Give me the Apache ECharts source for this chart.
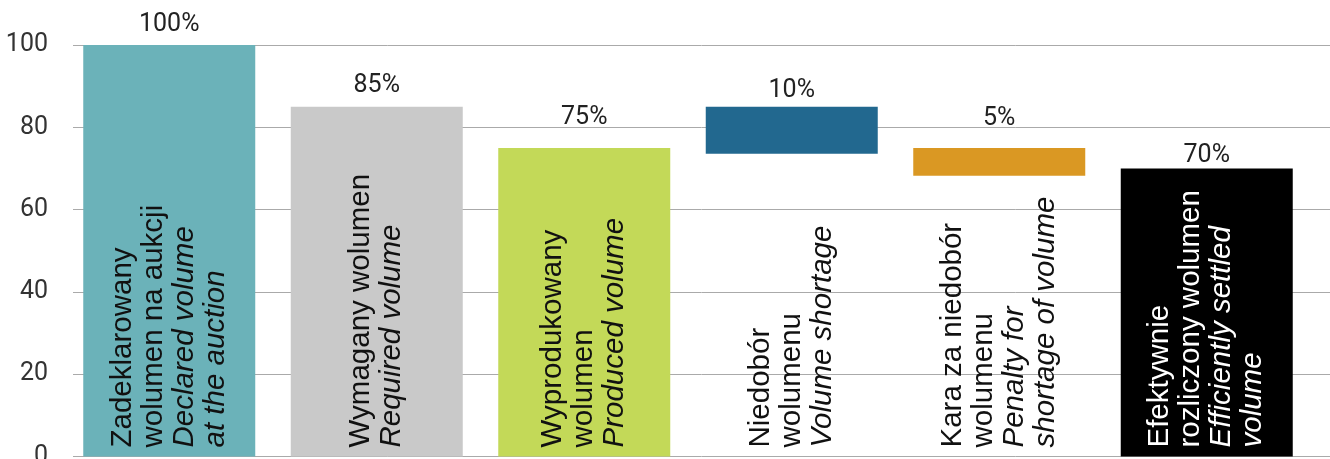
<!DOCTYPE html>
<html lang="pl">
<head>
  <meta charset="UTF-8">
  <title>Wolumen</title>
  <script src="https://cdn.jsdelivr.net/npm/echarts@6/dist/echarts.min.js"></script>
  <style>
    * {margin: 0; padding: 0;}
    html, body {width: 100%; height: 100%; overflow: hidden; background: #fff;}
    #chart {width: 1330px; height: 459px;}
  </style>
</head>
<body>
  <div id="chart"></div>
<script>
// data
var plNames = [
  ['Zadeklarowany', 'wolumen na aukcji'],
  ['Wymagany wolumen'],
  ['Wyprodukowany', 'wolumen'],
  ['Niedobór', 'wolumenu'],
  ['Kara za niedobór', 'wolumenu'],
  ['Efektywnie', 'rozliczony wolumen']
]
var enNames = [
  ['Declared volume', 'at the auction'],
  ['Required volume'],
  ['Produced volume'],
  ['Volume shortage'],
  ['Penalty for', 'shortage of volume'],
  ['Efficiently settled', 'volume']
]
var baseValues = [0, 0, 0, 73.6, 68.2, 0]
var barValues = [100, 85, 75, 11.4, 6.8, 70]
var shareLabels = ['100%', '85%', '75%', '10%', '5%', '70%']

var barColors = ['#6bb2b9', '#c9c9c9', '#c3d958', '#22688f', '#da9823', '#000000']
var labelGap = [8, 8, 18, 3, 17, 0]

var chart = echarts.init(document.getElementById('chart'))

var categories = plNames.map(function (p, i) { return 'c' + i })

var option = {
  animation: false,
  // grid 0 carries the value axis and its lines, grid 1 the bars
  grid: [
    {left: 73, right: 0, top: 45, bottom: 2.5, outerBoundsMode: 'none'},
    {left: 65.5, right: 19.5, top: 45, bottom: 2.5, outerBoundsMode: 'none'}
  ],
  xAxis: [
    {
      gridIndex: 0,
      type: 'category',
      data: categories,
      axisLine: {show: false},
      axisTick: {show: false},
      axisLabel: {show: false}
    },
    {
      gridIndex: 1,
      type: 'category',
      data: categories,
      axisLine: {show: false},
      axisTick: {show: false},
      axisLabel: {show: false}
    }
  ],
  yAxis: [
    {
      gridIndex: 0,
      type: 'value',
      min: 0,
      max: 100,
      interval: 20,
      axisLine: {show: false},
      axisTick: {show: false},
      axisLabel: {
        margin: 25,
        color: '#333',
        fontFamily: 'Roboto',
        fontSize: 25
      },
      splitLine: {lineStyle: {color: '#aaaaaa', width: 1}}
    },
    {
      gridIndex: 1,
      type: 'value',
      min: 0,
      max: 100,
      show: false,
      splitLine: {show: false}
    }
  ],
  series: [
    {
      name: 'base',
      type: 'bar',
      xAxisIndex: 1,
      yAxisIndex: 1,
      stack: 'w',
      barWidth: 172,
      silent: true,
      itemStyle: {color: 'transparent'},
      data: baseValues
    },
    {
      name: 'value',
      type: 'bar',
      xAxisIndex: 1,
      yAxisIndex: 1,
      stack: 'w',
      barWidth: 172,
      data: barValues.map(function (v, i) {
        return {
          value: v,
          itemStyle: {color: barColors[i]},
          label: {distance: labelGap[i]}
        }
      }),
      label: {
        show: true,
        position: 'top',
        fontFamily: 'Roboto',
        fontSize: 25,
        color: '#222',
        formatter: function (p) { return shareLabels[p.dataIndex] }
      }
    },
    {
      name: 'names',
      type: 'bar',
      xAxisIndex: 1,
      yAxisIndex: 1,
      barWidth: 172,
      barGap: '-100%',
      z: 5,
      silent: true,
      itemStyle: {color: 'transparent'},
      data: plNames.map(function (p, i) {
        return {value: 0, label: {color: i === 5 ? '#fff' : '#111'}}
      }),
      label: {
        show: true,
        position: 'insideBottom',
        distance: 9,
        rotate: 90,
        align: 'left',
        verticalAlign: 'middle',
        formatter: function (p) {
          var i = p.dataIndex
          var lines = plNames[i].map(function (s) { return '{pl|' + s + '}' })
            .concat(enNames[i].map(function (s) { return '{en|' + s + '}' }))
          return lines.join('\n')
        },
        rich: {
          pl: {fontFamily: 'Liberation Sans', fontSize: 29.5, lineHeight: 31},
          en: {fontFamily: 'Liberation Sans', fontSize: 29.5, lineHeight: 31, fontStyle: 'italic'}
        }
      }
    }
  ]
}
chart.setOption(option)
</script>
</body>
</html>
